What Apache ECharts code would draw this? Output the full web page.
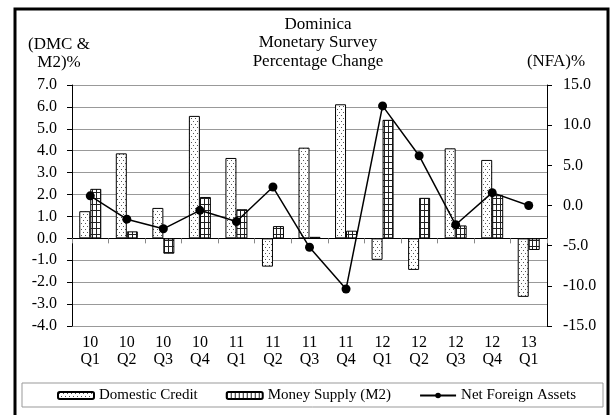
<!DOCTYPE html>
<html>
<head>
<meta charset="utf-8">
<script src="https://cdn.jsdelivr.net/npm/echarts@6/dist/echarts.min.js"></script>
<style>
  html, body { margin: 0; padding: 0; background: #fff; }
  #container { width: 611px; height: 415px; }
</style>
</head>
<body>
<div id="container"></div>
<script>
var dom = document.getElementById("container");
var myChart = echarts.init(dom);

// quarters (year / quarter)
var categories = ['10\nQ1', '10\nQ2', '10\nQ3', '10\nQ4', '11\nQ1', '11\nQ2', '11\nQ3', '11\nQ4',
                  '12\nQ1', '12\nQ2', '12\nQ3', '12\nQ4', '13\nQ1'];
// percentage change
var domesticCredit = [1.24, 3.88, 1.39, 5.59, 3.67, -1.29, 4.14, 6.12, -0.98, -1.44, 4.11, 3.58, -2.67];
var moneySupply = [2.26, 0.32, -0.70, 1.89, 1.33, 0.56, 0.07, 0.35, 5.41, 1.85, 0.59, 1.97, -0.53];
var netForeignAssets = [1.2, -1.7, -2.9, -0.6, -2.0, 2.3, -5.2, -10.4, 12.4, 6.2, -2.4, 1.6, 0.0];

var serif = '"Liberation Serif", "DejaVu Serif", serif';

// dotted fill for domestic credit
function dotPattern() {
    var c = document.createElement('canvas');
    c.width = 4; c.height = 6;
    var ctx = c.getContext('2d');
    ctx.fillStyle = '#fff';
    ctx.fillRect(0, 0, 4, 6);
    ctx.fillStyle = '#555';
    ctx.fillRect(1, 1, 1, 1);
    ctx.fillRect(3, 4, 1, 1);
    return c;
}
// grid fill for money supply
function gridPattern() {
    var c = document.createElement('canvas');
    c.width = 4; c.height = 6;
    var ctx = c.getContext('2d');
    ctx.fillStyle = '#fff';
    ctx.fillRect(0, 0, 4, 6);
    ctx.fillStyle = '#222';
    ctx.fillRect(0, 0, 4, 1);
    ctx.fillRect(0, 0, 1, 6);
    return c;
}

option = {
    animation: false,
    backgroundColor: '#fff',
    textStyle: { fontFamily: serif },
    graphic: [
        { type: 'rect', shape: { x: 15, y: 9, width: 593, height: 420 },
          style: { fill: 'none', stroke: '#000', lineWidth: 3 } },
        { type: 'rect', shape: { x: 22, y: 383, width: 581, height: 24 },
          style: { fill: 'none', stroke: '#999', lineWidth: 1 } },
        { type: 'text', x: 318, y: 15,
          style: { text: 'Dominica\nMonetary Survey\nPercentage Change', textAlign: 'center',
                   font: '17px ' + serif, lineHeight: 18.5, fill: '#000' } },
        { type: 'text', x: 59, y: 35,
          style: { text: '(DMC &\nM2)%', textAlign: 'center',
                   font: '17px ' + serif, lineHeight: 18.5, fill: '#000' } },
        { type: 'text', x: 556, y: 52,
          style: { text: '(NFA)%', textAlign: 'center',
                   font: '17px ' + serif, lineHeight: 18.5, fill: '#000' } }
    ],
    legend: {
        top: 388,
        left: 57,
        padding: 0,
        itemGap: 28,
        itemWidth: 36,
        itemHeight: 7,
        textStyle: { fontFamily: serif, fontSize: 15, color: '#000' },
        data: ['Domestic Credit', 'Money Supply (M2)', 'Net Foreign Assets']
    },
    grid: { left: 72, right: 64, top: 85, bottom: 89 },
    xAxis: [
        {
            type: 'category',
            data: categories,
            axisLine: { onZero: true, lineStyle: { color: '#000', width: 1 } },
            axisTick: { show: true, length: 5, inside: false, lineStyle: { color: '#888' } },
            axisLabel: { show: false }
        },
        {
            type: 'category',
            data: categories,
            position: 'bottom',
            axisLine: { show: false, onZero: false },
            axisTick: { show: false },
            axisLabel: { fontFamily: serif, fontSize: 16, color: '#000', lineHeight: 17, margin: 8 }
        }
    ],
    yAxis: [
        {
            type: 'value',
            min: -4, max: 7, interval: 1,
            axisLine: { show: true, lineStyle: { color: '#000' } },
            axisTick: { show: true, length: 5, lineStyle: { color: '#000' } },
            axisLabel: { fontFamily: serif, fontSize: 16, color: '#000', margin: 15,
                         formatter: function (v) { return v.toFixed(1); } },
            splitLine: { show: true, lineStyle: { color: '#999', width: 1 } }
        },
        {
            type: 'value',
            min: -15, max: 15, interval: 5,
            position: 'right',
            axisLine: { show: true, lineStyle: { color: '#000' } },
            axisTick: { show: true, length: 5, lineStyle: { color: '#000' } },
            axisLabel: { fontFamily: serif, fontSize: 16, color: '#000', margin: 16,
                         formatter: function (v) { return v.toFixed(1); } },
            splitLine: { show: false }
        }
    ],
    series: [
        {
            name: 'Domestic Credit',
            type: 'bar',
            barWidth: 11,
            barGap: '0%',
            itemStyle: { color: { image: dotPattern(), repeat: 'repeat' }, borderColor: '#000', borderWidth: 1 },
            data: domesticCredit
        },
        {
            name: 'Money Supply (M2)',
            type: 'bar',
            barWidth: 11,
            barGap: '0%',
            itemStyle: { color: { image: gridPattern(), repeat: 'repeat' }, borderColor: '#000', borderWidth: 1 },
            data: moneySupply
        },
        {
            name: 'Net Foreign Assets',
            type: 'line',
            yAxisIndex: 1,
            symbol: 'circle',
            symbolSize: 9,
            lineStyle: { color: '#000', width: 1.5 },
            itemStyle: { color: '#000' },
            data: netForeignAssets
        }
    ]
};
if (option && typeof option === "object") {
    myChart.setOption(option, true);
}
</script>
</body>
</html>
